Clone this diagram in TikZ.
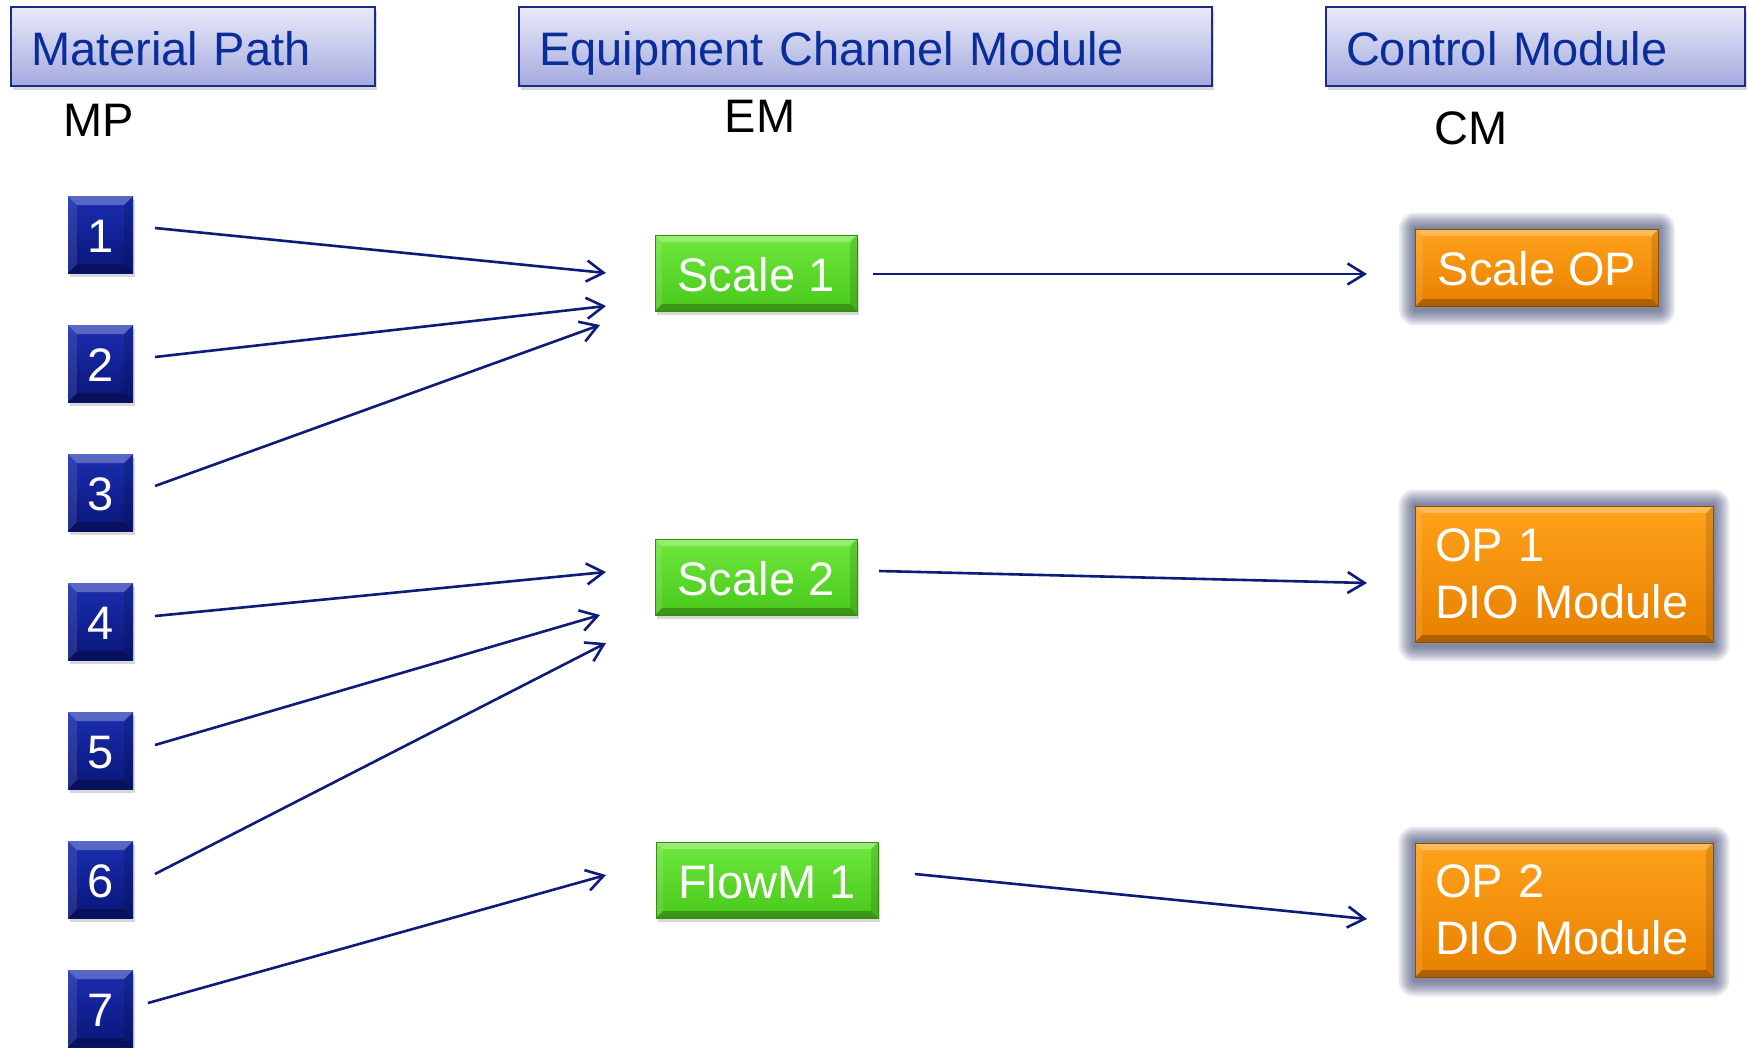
\documentclass[tikz,border=0pt]{standalone}
\usepackage{fontspec}
\setmainfont{Liberation Sans}
\usetikzlibrary{arrows.meta,shadows,calc,backgrounds}
\definecolor{hdrtop}{HTML}{E9EAF8}
\definecolor{hdrbot}{HTML}{A4AADE}
\definecolor{hdrline}{HTML}{1C2A8C}
\definecolor{hdrtext}{HTML}{0A2D9C}
\definecolor{sqtop}{HTML}{1A2EB0}
\definecolor{sqbot}{HTML}{0A1678}
\definecolor{grtop}{HTML}{6EE83C}
\definecolor{grbot}{HTML}{4AC81C}
\definecolor{ortop}{HTML}{FFA21A}
\definecolor{orbot}{HTML}{E88000}
\definecolor{glowc}{HTML}{2E3466}
\definecolor{arrowc}{HTML}{0D1B7A}
\tikzset{
  bigfont/.style={font=\fontsize{47}{57}\selectfont},
  bevel/.style={path picture={
    \fill[white,opacity=0.28] (path picture bounding box.north west) -- (path picture bounding box.north east) -- ++(-#1,#1) -- ($(path picture bounding box.north west)+(#1,#1)$) -- cycle;
    \fill[black,opacity=0.25] (path picture bounding box.south west) -- (path picture bounding box.south east) -- ++(-#1,-#1) -- ($(path picture bounding box.south west)+(#1,-#1)$) -- cycle;
    \fill[white,opacity=0.10] (path picture bounding box.north west) -- ($(path picture bounding box.north west)+(#1,#1)$) -- ($(path picture bounding box.south west)+(#1,-#1)$) -- (path picture bounding box.south west) -- cycle;
    \fill[black,opacity=0.12] (path picture bounding box.north east) -- ($(path picture bounding box.north east)+(-#1,#1)$) -- ($(path picture bounding box.south east)+(-#1,-#1)$) -- (path picture bounding box.south east) -- cycle;
  }},
  hdrbox/.style={draw=hdrline, line width=2pt, top color=hdrtop, bottom color=hdrbot,
    text=hdrtext, bigfont, minimum height=79pt, inner xsep=20pt, inner ysep=0pt,
    text width=#1-40pt, align=left, text height=41pt, text depth=4pt,
    drop shadow={shadow xshift=2pt, shadow yshift=-4pt, opacity=0.3}},
  lbl/.style={bigfont, text=black, inner sep=0pt},
  sqbox/.style={top color=sqtop, bottom color=sqbot, text=white, bigfont,
    minimum width=65pt, minimum height=77pt, inner sep=0pt, bevel=9,
    text height=36pt, text depth=0pt,
    drop shadow={shadow xshift=2pt, shadow yshift=-4pt, opacity=0.3}},
  grbox/.style={top color=grtop, bottom color=grbot, draw=grbot!70!black, line width=0.6pt,
    text=white, bigfont, minimum width=#1, minimum height=76pt, inner sep=0pt, bevel=7,
    text height=36pt, text depth=0pt,
    drop shadow={shadow xshift=2pt, shadow yshift=-4pt, opacity=0.3}},
  orbox/.style={top color=ortop, bottom color=orbot, draw=orbot!60!black, line width=0.8pt,
    text=white, bigfont, inner sep=0pt, bevel=7},
  flow/.style={draw=arrowc, line width=2.6pt, -{Straight Barb[length=17pt,width=21pt]}},
}
\begin{document}
\begin{tikzpicture}[x=1pt,y=-1pt]
\useasboundingbox (0,0) rectangle (1747,1047);

% headers
\node[hdrbox=364pt, minimum width=364pt] (hmp) at (193,46.5) {Material Path};
\node[hdrbox=693pt, minimum width=693pt] (hem) at (865.5,46.5) {Equipment Channel Module};
\node[hdrbox=419pt, minimum width=419pt] (hcm) at (1535.5,46.5) {Control Module};

\node[lbl] (lmp) at (98.5,120) {MP};
\node[lbl] (lem) at (760,116) {EM};
\node[lbl] (lcm) at (1471,128) {CM};

% material path squares
\node[sqbox] (m1) at (100.5,234.5) {1};
\node[sqbox] (m2) at (100.5,363.5) {2};
\node[sqbox] (m3) at (100.5,492.5) {3};
\node[sqbox] (m4) at (100.5,621.5) {4};
\node[sqbox] (m5) at (100.5,750.5) {5};
\node[sqbox] (m6) at (100.5,879.5) {6};
\node[sqbox] (m7) at (100.5,1008.5) {7};

% equipment modules
\node[grbox=202pt] (s1) at (756,273) {Scale 1};
\node[grbox=202pt] (s2) at (756,577) {Scale 2};
\node[grbox=222pt] (f1) at (767,880) {FlowM 1};

% control modules
\node[orbox, minimum width=243pt, minimum height=77pt, text height=36pt, text depth=0pt] (c1) at (1537,267.5) {Scale OP};
\node[orbox, minimum width=298pt, minimum height=136pt, text width=258pt, align=left] (c2) at (1564,574) {OP 1\\DIO Module};
\node[orbox, minimum width=298pt, minimum height=134pt, text width=258pt, align=left] (c3) at (1564,910) {OP 2\\DIO Module};

% white page and glow behind control modules
\begin{scope}[on background layer]
\fill[white] (0,0) rectangle (1747,1047);
\foreach \n in {c1,c2,c3}{
  \foreach \i in {1,...,8}{
    \fill[glowc, opacity=0.1, rounded corners=2*\i pt]
      ($(\n.south west)+(-2*\i,2*\i+3)$) rectangle ($(\n.north east)+(2*\i,-2*\i)$);
  }
}
\end{scope}

% arrow anchor points
\coordinate (a1s) at (155,228);  \coordinate (a1e) at (606,273);
\coordinate (a2s) at (155,357);  \coordinate (a2e) at (606,306);
\coordinate (a3s) at (155,486);  \coordinate (a3e) at (600,325);
\coordinate (a4s) at (155,616);  \coordinate (a4e) at (606,572);
\coordinate (a5s) at (155,745);  \coordinate (a5e) at (600,615);
\coordinate (a6s) at (155,874);  \coordinate (a6e) at (606,643);
\coordinate (a7s) at (148,1003); \coordinate (a7e) at (606,875);
\coordinate (b1s) at (873,274);  \coordinate (b1e) at (1367,274);
\coordinate (b2s) at (879,571);  \coordinate (b2e) at (1367,583);
\coordinate (b3s) at (915,874);  \coordinate (b3e) at (1367,919);

\draw[flow] (a1s) -- (a1e);
\draw[flow] (a2s) -- (a2e);
\draw[flow] (a3s) -- (a3e);
\draw[flow] (a4s) -- (a4e);
\draw[flow] (a5s) -- (a5e);
\draw[flow] (a6s) -- (a6e);
\draw[flow] (a7s) -- (a7e);
\draw[flow] (b1s) -- (b1e);
\draw[flow] (b2s) -- (b2e);
\draw[flow] (b3s) -- (b3e);
\end{tikzpicture}
\end{document}
